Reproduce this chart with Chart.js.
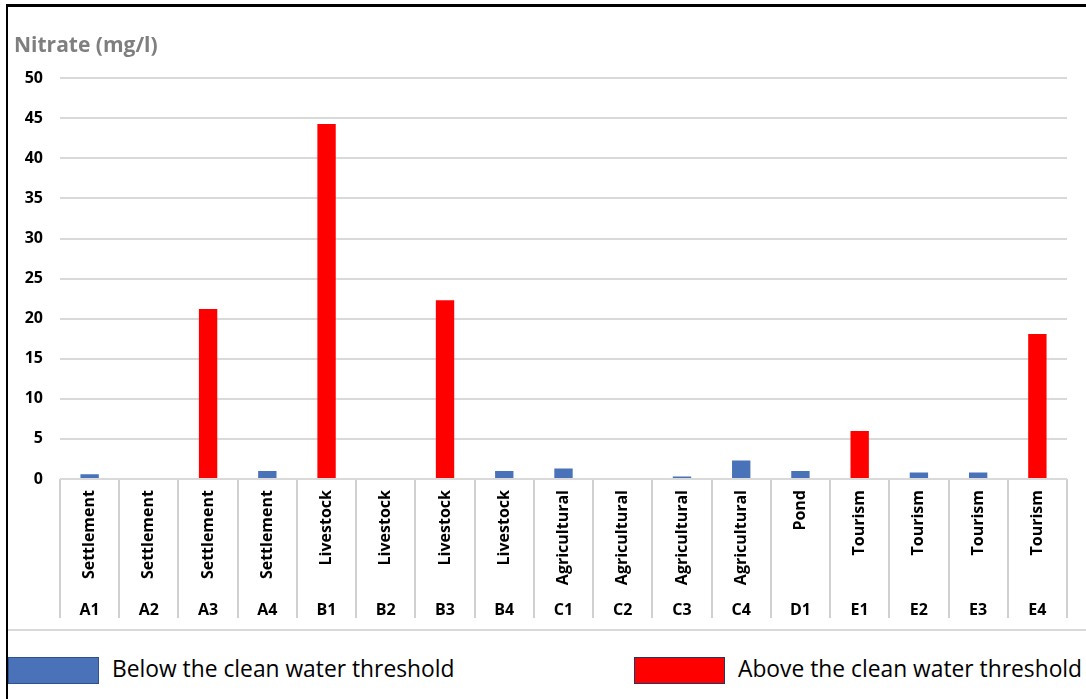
<!DOCTYPE html>
<html>
<head>
<meta charset="utf-8">
<script src="https://cdn.jsdelivr.net/npm/chart.js@4.4.1/dist/chart.umd.min.js"></script>
<style>
    body { margin: 0; background: #fff; font-family: "Open Sans", "Liberation Sans", Arial, sans-serif; }
    #wrap { position: relative; width: 1086px; height: 699px; overflow: hidden; }
    #chartBox { position: absolute; left: 0; top: 0; width: 1086px; height: 630px; }
    .frameLeft { position: absolute; left: 6px; top: 4px; width: 2px; height: 700px; background: #000; }
    .frameTop { position: absolute; left: 6px; top: 4px; width: 1090px; height: 3px; background: #000; }
    .sep { position: absolute; left: 8px; top: 629px; width: 1080px; height: 2px; background: #d9d9d9; }
    .legBox { position: absolute; top: 657px; width: 89px; height: 25px; border: 1px solid #2f528f; }
    .legText { position: absolute; top: 655px; font-size: 22.8px; color: #000; line-height: 28px; white-space: nowrap; }
</style>
</head>
<body>
<div id="wrap">
    <div id="chartBox"><canvas id="nitrateChart"></canvas></div>
    <div class="frameLeft"></div>
    <div class="frameTop"></div>
    <div class="sep"></div>
    <div class="legBox" style="left:8px; background:#4a72b8;"></div>
    <div class="legText" style="left:112px;">Below the clean water threshold</div>
    <div class="legBox" style="left:634px; background:#ff0000; border-color:#203864;"></div>
    <div class="legText" style="left:738px;">Above the clean water threshold</div>
</div>
<script>
// Sampling sites and their land use
const codes = ['A1', 'A2', 'A3', 'A4', 'B1', 'B2', 'B3', 'B4', 'C1', 'C2', 'C3', 'C4', 'D1', 'E1', 'E2', 'E3', 'E4'];
const types = ['Settlement', 'Settlement', 'Settlement', 'Settlement', 'Livestock', 'Livestock', 'Livestock', 'Livestock',
    'Agricultural', 'Agricultural', 'Agricultural', 'Agricultural', 'Pond', 'Tourism', 'Tourism', 'Tourism', 'Tourism'];

// Nitrate (mg/l) - split by threshold
const belowValues = [0.6, 0, null, 1.0, null, 0, null, 1.0, 1.3, 0, 0.3, 2.3, 1.0, null, 0.8, 0.8, null];
const aboveValues = [null, null, 21.2, null, 44.3, null, 22.3, null, null, null, null, null, null, 6.0, null, null, 18.1];

const yTicks = [0, 5, 10, 15, 20, 25, 30, 35, 40, 45, 50];

const FONT = '"Open Sans", "Liberation Sans", Arial, sans-serif';

new Chart(document.getElementById('nitrateChart'), {
    type: 'bar',
    data: {
        labels: codes,
        datasets: [{
            label: 'Below the clean water threshold',
            data: belowValues,
            backgroundColor: '#4a72b8'
        }, {
            label: 'Above the clean water threshold',
            data: aboveValues,
            backgroundColor: '#ff0000'
        }]
    },
    options: {
        responsive: true,
        maintainAspectRatio: false,
        animation: false,
        barPercentage: 0.31,
        categoryPercentage: 1,
        layout: {
            padding: { left: 14, right: 19, top: 0, bottom: 12 }
        },
        plugins: {
            legend: { display: false },
            tooltip: { enabled: false },
            title: {
                display: true,
                text: 'Nitrate (mg/l)',
                align: 'start',
                color: '#7f7f7f',
                font: { family: FONT, size: 21, weight: 'bold' },
                padding: { top: 33, bottom: 20 }
            }
        },
        scales: {
            x: {
                stacked: true,
                labels: types,
                border: { display: false },
                grid: {
                    offset: true,
                    drawOnChartArea: false,
                    color: '#d0d0d0',
                    lineWidth: 2,
                    tickLength: 139
                },
                ticks: {
                    autoSkip: false,
                    minRotation: 90,
                    maxRotation: 90,
                    padding: -128,
                    color: '#000',
                    font: { family: FONT, size: 16, weight: 'bold' }
                },
                afterFit: function(scale) { scale.height = 112; }
            },
            x2: {
                type: 'category',
                position: 'bottom',
                labels: codes,
                offset: true,
                border: { display: false },
                grid: { display: false },
                ticks: {
                    autoSkip: false,
                    maxRotation: 0,
                    padding: 2,
                    color: '#000',
                    font: { family: FONT, size: 16, weight: 'bold' }
                },
                afterFit: function(scale) { scale.height = 27; }
            },
            y: {
                stacked: true,
                min: 0,
                max: 50,
                border: { display: false },
                grid: { color: '#d9d9d9', lineWidth: 2, drawTicks: false },
                afterBuildTicks: function(scale) {
                    scale.ticks = yTicks.map(v => ({ value: v }));
                },
                ticks: {
                    padding: 17,
                    color: '#000',
                    font: { family: FONT, size: 16, weight: 'bold' }
                },
                afterFit: function(scale) { scale.width = 46; }
            }
        }
    }
});
</script>
</body>
</html>
